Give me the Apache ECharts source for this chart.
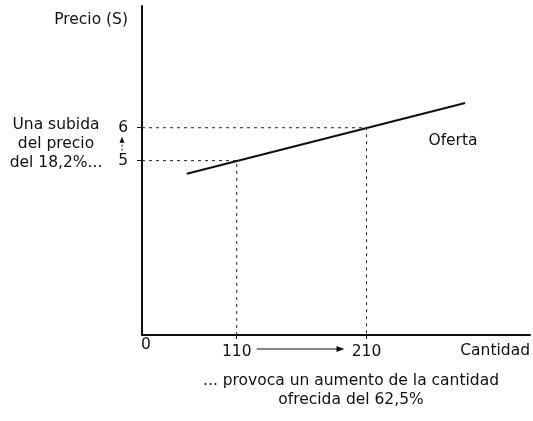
<!DOCTYPE html>
<html>
<head>
<meta charset="utf-8">
<script src="https://cdn.jsdelivr.net/npm/echarts@6/dist/echarts.min.js"></script>
<style>
html,body{margin:0;padding:0;background:#fff;}
#chart{width:533px;height:421px;}
</style>
</head>
<body>
<div id="chart"></div>
<script>
// curva de oferta (esquema, ejes no parten de 0)
const ofertaX=[71.5,286];
const ofertaY=[4.6,6.75];
// puntos marcados
const puntosX=[110,210];
const puntosY=[5,6];
// extremos de los ejes
const ejeX=[37,336];
const ejeY=[-0.3,9.7];
// etiquetas
const xTicks=[110,210];
const yTicks=[5,6];

const font="'DejaVu Sans', 'Liberation Sans', Arial, sans-serif";
const ink='#111';

const chart=echarts.init(document.getElementById('chart'),null,{renderer:'canvas'});

// lineas punteadas: eje Y -> punto -> eje X
const guias=puntosX.map((x,i)=>({
    type:'line',
    silent:true,
    symbol:'none',
    animation:false,
    lineStyle:{color:'#222',width:1,type:[3,4]},
    data:[[ejeX[0],puntosY[i]],[x,puntosY[i]],[x,ejeY[0]]],
    z:1
}));

chart.setOption({
    animation:false,
    backgroundColor:'#fff',
    grid:{left:142,top:6,right:3,bottom:86},
    xAxis:{
        type:'value',min:ejeX[0],max:ejeX[1],
        splitLine:{show:false},
        axisLine:{show:true,onZero:false,lineStyle:{color:ink,width:2}},
        axisTick:{show:true,customValues:xTicks,length:4,lineStyle:{color:ink,width:1}},
        axisLabel:{customValues:xTicks,margin:9,color:ink,fontFamily:font,fontSize:15.5}
    },
    yAxis:{
        type:'value',min:ejeY[0],max:ejeY[1],
        splitLine:{show:false},
        axisLine:{show:true,onZero:false,lineStyle:{color:ink,width:2}},
        axisTick:{show:true,customValues:yTicks,length:5,lineStyle:{color:ink,width:1}},
        axisLabel:{customValues:yTicks,margin:14,color:ink,fontFamily:font,fontSize:15.5}
    },
    series:[
        ...guias,
        {
            type:'line',
            name:'Oferta',
            symbol:'none',
            lineStyle:{color:'#111',width:2.2},
            data:ofertaX.map((x,i)=>[x,ofertaY[i]]),
            z:3
        }
    ]
});

// anotaciones de texto y flechas
const orig=chart.convertToPixel({gridIndex:0},[ejeX[0],ejeY[0]]);
const p5=chart.convertToPixel({gridIndex:0},[puntosX[0],puntosY[0]]);
const p6=chart.convertToPixel({gridIndex:0},[puntosX[1],puntosY[1]]);
const txt=(t,x,y,align,size)=>({
    type:'text',
    style:{text:t,x:x,y:y,align:align||'center',verticalAlign:'middle',
        fill:ink,font:(size||15.5)+'px '+font,lineHeight:19}
});
const upX=orig[0]-20;
const arrowY=orig[1]+14;
const ax0=p5[0]+20, ax1=p6[0]-22;

chart.setOption({graphic:[
    txt('Precio (S)',orig[0]-14,20,'right'),
    txt('Una subida\ndel precio\ndel 18,2%...',56,(p5[1]+p6[1])/2,'center'),
    txt('Oferta',453,141),
    txt('0',orig[0]+4,orig[1]+10),
    txt('Cantidad',530,orig[1]+16,'right'),
    txt('... provoca un aumento de la cantidad\nofrecida del 62,5%',351,390,'center',15.5),
    // flecha hacia arriba entre 5 y 6
    {type:'line',shape:{x1:upX,y1:p5[1]-10,x2:upX,y2:p6[1]+13},style:{stroke:ink,lineWidth:1,lineDash:[2,2]}},
    {type:'polygon',shape:{points:[[upX-2.5,p6[1]+15],[upX+2.5,p6[1]+15],[upX,p6[1]+9]]},style:{fill:ink}},
    // flecha hacia la derecha entre 110 y 210
    {type:'line',shape:{x1:ax0,y1:arrowY,x2:ax1-5,y2:arrowY},style:{stroke:ink,lineWidth:1}},
    {type:'polygon',shape:{points:[[ax1-8,arrowY-3],[ax1-8,arrowY+3],[ax1,arrowY]]},style:{fill:ink}}
]});
</script>
</body>
</html>
